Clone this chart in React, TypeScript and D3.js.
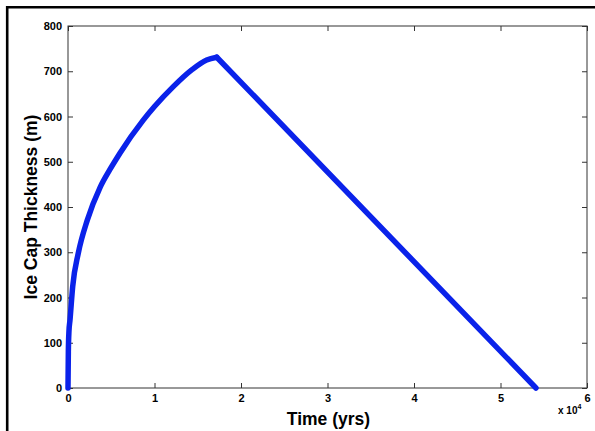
import { useEffect, useRef } from 'react';
import * as d3 from 'd3';

// values
const timeYrs = [0, 40, 110, 230, 540, 1190, 2230, 3700, 4850, 6000, 8700, 10000, 12170, 14300, 16030, 17200, 54100];
const thickness = [0, 80, 125, 150, 224, 298, 371, 443, 483, 519, 592, 622, 666, 703, 725, 731, 0];
const peakIndex = 15;
const xTicks = [0, 10000, 20000, 30000, 40000, 50000, 60000];
const yTicks = [0, 100, 200, 300, 400, 500, 600, 700, 800];

const FONT = '"Liberation Sans", Arial, Helvetica, sans-serif';

const App = () => {
    const svgRef = useRef<SVGSVGElement>(null);

    useEffect(() => {
        const w = 595;
        const h = 431;
        const m = { left: 68, right: 587, top: 26, bottom: 388 };
        const svg = d3.select(svgRef.current)
            .attr('width', w)
            .attr('height', h);
        svg.selectAll('*').remove();

        svg.append('rect').attr('width', w).attr('height', h).attr('fill', '#fff');

        // outer frame (only left/top visible)
        svg.append('path')
            .attr('d', `M7.2,${h} V7.2 H${w}`)
            .attr('fill', 'none')
            .attr('stroke', '#000')
            .attr('stroke-width', 2.6);

        const x = d3.scaleLinear().domain([0, 60000]).range([m.left, m.right]);
        const y = d3.scaleLinear().domain([0, 800]).range([m.bottom, m.top]);

        const styleAxis = (g: any) => {
            g.select('.domain').remove();
            g.selectAll('line').attr('stroke', '#333');
            g.selectAll('text')
                .attr('fill', '#000')
                .style('font-family', FONT)
                .style('font-weight', 'bold')
                .style('font-size', '11px');
        };

        svg.append('g')
            .attr('transform', `translate(0,${m.bottom})`)
            .call(d3.axisBottom(x).tickValues(xTicks).tickSize(-5).tickPadding(6)
                .tickFormat(d => String(+d / 10000)))
            .call(styleAxis);
        svg.append('g')
            .attr('transform', `translate(0,${m.top})`)
            .call(d3.axisTop(x).tickValues(xTicks).tickSize(-5).tickFormat(() => ''))
            .call(styleAxis);
        svg.append('g')
            .attr('transform', `translate(${m.left},0)`)
            .call(d3.axisLeft(y).tickValues(yTicks).tickSize(-5).tickPadding(6))
            .call(styleAxis);
        svg.append('g')
            .attr('transform', `translate(${m.right},0)`)
            .call(d3.axisRight(y).tickValues(yTicks).tickSize(-5).tickFormat(() => ''))
            .call(styleAxis);

        svg.append('rect')
            .attr('x', m.left)
            .attr('y', m.top)
            .attr('width', m.right - m.left)
            .attr('height', m.bottom - m.top)
            .attr('fill', 'none')
            .attr('stroke', '#333')
            .attr('stroke-width', 1);

        const pts = timeYrs.map((t, i) => [t, thickness[i]] as [number, number]);
        const rise = d3.line<[number, number]>()
            .x(d => x(d[0]))
            .y(d => y(d[1]))
            .curve(d3.curveMonotoneX);
        const fall = d3.line<[number, number]>()
            .x(d => x(d[0]))
            .y(d => y(d[1]));
        const g = svg.append('g')
            .attr('fill', 'none')
            .attr('stroke', '#0a22ea')
            .attr('stroke-width', 5.5)
            .attr('stroke-linejoin', 'round')
            .attr('stroke-linecap', 'round');
        g.append('path').datum(pts.slice(0, peakIndex + 1)).attr('d', rise);
        g.append('path').datum(pts.slice(peakIndex)).attr('d', fall);

        // labels
        svg.append('text')
            .attr('x', 328.5)
            .attr('y', 425)
            .attr('text-anchor', 'middle')
            .style('font-family', FONT)
            .style('font-weight', 'bold')
            .style('font-size', '17.5px')
            .text('Time (yrs)');
        svg.append('text')
            .attr('transform', 'translate(37,207) rotate(-90)')
            .attr('text-anchor', 'middle')
            .style('font-family', FONT)
            .style('font-weight', 'bold')
            .style('font-size', '17.5px')
            .text('Ice Cap Thickness (m)');

        const exp = svg.append('text')
            .attr('x', 558)
            .attr('y', 414)
            .style('font-family', FONT)
            .style('font-weight', 'bold')
            .style('font-size', '10px');
        exp.append('tspan').text('x 10');
        exp.append('tspan').attr('dy', -5).style('font-size', '7px').text('4');
    }, []);

    return (
        <svg ref={svgRef} style={{ position: 'absolute', left: 0, top: 0 }}></svg>
    );
};

export default App;
